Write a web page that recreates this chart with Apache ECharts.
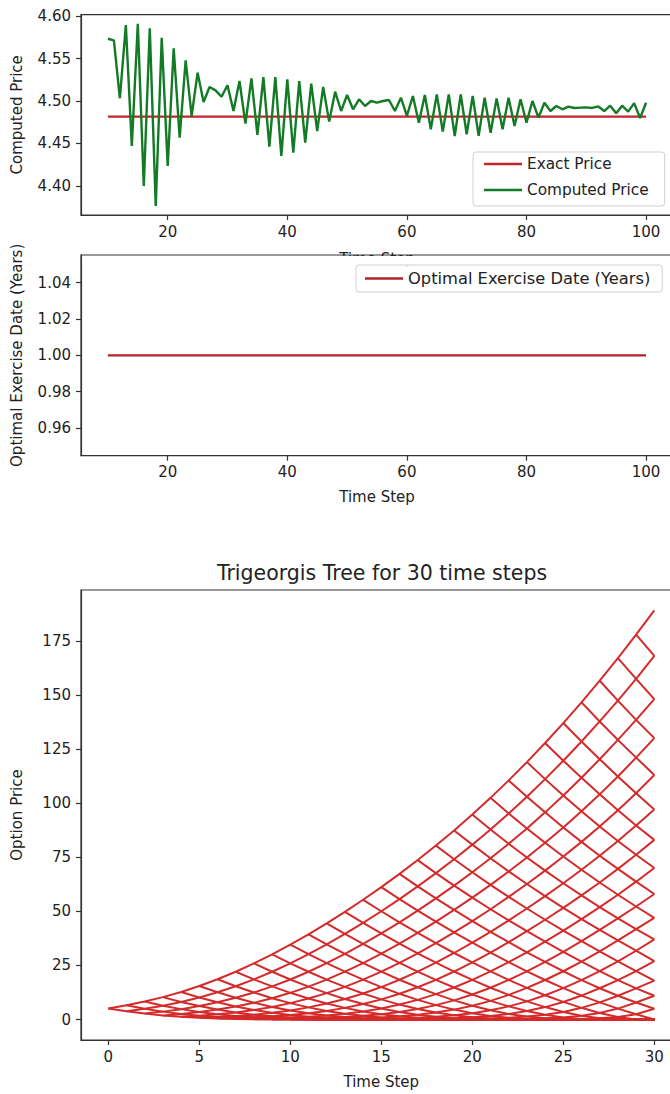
<!DOCTYPE html>
<html><head><meta charset="utf-8">
<script src="https://cdn.jsdelivr.net/npm/echarts@6/dist/echarts.min.js"></script>
<style>html,body{margin:0;padding:0;background:#fff;overflow:hidden;width:670px;height:1094px;}#c{width:700px;height:1094px;}</style>
</head><body><div id="c"></div>
<script>
// ---------- Data ----------
const firstStep = 10;
const computedPrice = [
  4.5733, 4.5714, 4.5032, 4.5894, 4.4471, 4.5910, 4.4000, 4.5855, 4.3765, 4.5745,
  4.4235, 4.5620, 4.4569, 4.5478, 4.4824, 4.5333, 4.4988, 4.5165, 4.5125, 4.5050,
  4.5185, 4.4882, 4.5235, 4.4733, 4.5265, 4.4600, 4.5280, 4.4463, 4.5280, 4.4353,
  4.5255, 4.4392, 4.5235, 4.4510, 4.5204, 4.4647, 4.5165, 4.4757, 4.5110, 4.4882,
  4.5071, 4.4902, 4.5020, 4.4941, 4.5000, 4.4980, 4.5000, 4.5012, 4.4882, 4.5039,
  4.4824, 4.5059, 4.4745, 4.5071, 4.4667, 4.5078, 4.4639, 4.5078, 4.4588, 4.5078,
  4.4608, 4.5059, 4.4590, 4.5039, 4.4627, 4.5031, 4.4667, 4.5039, 4.4706, 4.5020,
  4.4745, 4.5000, 4.4804, 4.4980, 4.4882, 4.4941, 4.4902, 4.4933, 4.4918, 4.4922,
  4.4925, 4.4918, 4.4937, 4.4882, 4.4945, 4.4855, 4.4945, 4.4875, 4.4975, 4.4800,
  4.4980
];
const exactPrice = 4.4816;
const optimalExerciseDate = [
  1,1,1,1,1,1,1,1,1,1, 1,1,1,1,1,1,1,1,1,1, 1,1,1,1,1,1,1,1,1,1,
  1,1,1,1,1,1,1,1,1,1, 1,1,1,1,1,1,1,1,1,1, 1,1,1,1,1,1,1,1,1,1,
  1,1,1,1,1,1,1,1,1,1, 1,1,1,1,1,1,1,1,1,1, 1,1,1,1,1,1,1,1,1,1, 1
];
const stepTicks = [20, 40, 60, 80, 100];
const priceTicks = [4.40, 4.45, 4.50, 4.55, 4.60];
const exerciseTicks = [0.96, 0.98, 1.00, 1.02, 1.04];

// Trigeorgis tree (30 steps): option values at the last step, top node first
const treeSteps = 30;
const terminalOptionValues = [189, 168, 148, 130, 113, 97, 83, 70, 58, 47, 37, 27, 18, 11, 5,
  0, 0, 0, 0, 0, 0, 0, 0, 0, 0, 0, 0, 0, 0, 0, 0];
const upProbability = 0.485;
const stepDiscount = 0.998;
const treeXTicks = [0, 5, 10, 15, 20, 25, 30];
const treeYTicks = [0, 25, 50, 75, 100, 125, 150, 175];

// ---------- Build ----------
const FONT = 'DejaVu Sans';
const TXT = '#222';
const steps = computedPrice.map((_, i) => firstStep + i);

// roll back the lattice
const V = [];
V[treeSteps] = [];
for (let j = 0; j <= treeSteps; j++) V[treeSteps][j] = terminalOptionValues[treeSteps - j];
for (let i = treeSteps - 1; i >= 0; i--) {
  V[i] = [];
  for (let j = 0; j <= i; j++) {
    V[i][j] = stepDiscount * (upProbability * V[i + 1][j + 1] + (1 - upProbability) * V[i + 1][j]);
  }
}
const rays = [];
for (let k = 0; k < treeSteps; k++) {
  const up = [], down = [];
  for (let m = 0; k + m <= treeSteps; m++) {
    up.push([k + m, V[k + m][m]]);
    down.push([k + m, V[k + m][k]]);
  }
  rays.push({ coords: up });
  rays.push({ coords: down });
}

const axisLineStyle = { show: true, onZero: false, lineStyle: { color: '#333', width: 1.2 } };
function xAx(grid, min, max, ticks, name, gap) {
  return {
    type: 'value', gridIndex: grid, min: min, max: max,
    axisLine: axisLineStyle,
    splitLine: { show: false },
    axisTick: { show: true, inside: false, length: 5, customValues: ticks, lineStyle: { color: '#333', width: 1.2 } },
    axisLabel: { customValues: ticks, margin: 9, fontSize: 15, color: TXT, fontFamily: FONT },
    name: name, nameLocation: 'middle', nameGap: gap,
    nameTextStyle: { fontSize: 15, color: TXT, fontFamily: FONT }
  };
}
function yAx(grid, min, max, ticks, name, fmt) {
  return {
    type: 'value', gridIndex: grid, min: min, max: max,
    axisLine: axisLineStyle,
    splitLine: { show: false },
    axisTick: { show: true, inside: false, length: 5, customValues: ticks, lineStyle: { color: '#333', width: 1.2 } },
    axisLabel: { customValues: ticks, margin: 10, fontSize: 15, color: TXT, fontFamily: FONT, formatter: fmt },
    name: name, nameLocation: 'middle', nameGap: 57,
    nameTextStyle: { fontSize: 15, color: TXT, fontFamily: FONT }
  };
}
const gridBase = { show: true, borderColor: '#333', borderWidth: 1.2, backgroundColor: 'transparent', outerBoundsMode: 'none', containLabel: false };

const chart = echarts.init(document.getElementById('c'), null, { renderer: 'svg', width: 700, height: 1094 });
chart.setOption({
  animation: false,
  backgroundColor: '#fff',
  textStyle: { fontFamily: FONT },
  title: {
    text: 'Trigeorgis Tree for 30 time steps',
    left: 377, top: 557, textAlign: 'center',
    textStyle: { fontSize: 20.5, fontWeight: 'normal', color: TXT, fontFamily: FONT }
  },
  grid: [
    Object.assign({ left: 81, top: 14.6, width: 592, height: 200.4 }, gridBase),
    Object.assign({ left: 81, top: 255, width: 592, height: 200.7 }, gridBase),
    Object.assign({ left: 81, top: 590, width: 600.6, height: 450 }, gridBase)
  ],
  xAxis: [
    xAx(0, 5.5, 104.5, stepTicks, 'Time Step', 36),
    xAx(1, 5.5, 104.5, stepTicks, 'Time Step', 34),
    xAx(2, -1.5, 31.5, treeXTicks, 'Time Step', 34)
  ],
  yAxis: [
    yAx(0, 4.3658, 4.6017, priceTicks, 'Computed Price', v => v.toFixed(2)),
    yAx(1, 0.9448, 1.0552, exerciseTicks, 'Optimal Exercise Date (Years)', v => v.toFixed(2)),
    yAx(2, -9.45, 198.45, treeYTicks, 'Option Price', v => String(v))
  ],
  legend: [
    {
      data: ['Exact Price', 'Computed Price'], orient: 'vertical',
      left: 473, top: 152, padding: [3, 16, 7, 11], itemGap: 8,
      icon: 'rect', itemWidth: 38, itemHeight: 2.5,
      backgroundColor: 'rgba(255,255,255,0.85)', borderColor: '#d0d0d0', borderWidth: 1, borderRadius: 3,
      textStyle: { fontSize: 15.3, color: TXT, fontFamily: FONT, lineHeight: 18 }, selectedMode: false
    },
    {
      data: ['Optimal Exercise Date (Years)'], orient: 'vertical',
      left: 356, top: 265, padding: [4, 12, 4, 9], itemGap: 8,
      icon: 'rect', itemWidth: 38, itemHeight: 2.5,
      backgroundColor: 'rgba(255,255,255,0.85)', borderColor: '#d0d0d0', borderWidth: 1, borderRadius: 3,
      textStyle: { fontSize: 16.3, color: TXT, fontFamily: FONT, lineHeight: 19 }, selectedMode: false
    }
  ],
  graphic: [
    { type: 'rect', z: 3, silent: true, shape: { x: 82.5, y: 256, width: 600, height: 9 }, style: { fill: '#fff' } }
  ],
  series: [
    {
      name: 'Exact Price', type: 'line', xAxisIndex: 0, yAxisIndex: 0, color: '#c0262c',
      showSymbol: false, lineStyle: { width: 2.3, color: '#c0262c' },
      data: steps.map(s => [s, exactPrice])
    },
    {
      name: 'Computed Price', type: 'line', xAxisIndex: 0, yAxisIndex: 0, color: '#137a26',
      showSymbol: false, lineStyle: { width: 2.4, color: '#137a26' },
      data: steps.map((s, i) => [s, computedPrice[i]])
    },
    {
      name: 'Optimal Exercise Date (Years)', type: 'line', xAxisIndex: 1, yAxisIndex: 1, color: '#b0242a',
      showSymbol: false, lineStyle: { width: 2.3, color: '#b0242a' },
      data: steps.map((s, i) => [s, optimalExerciseDate[i]])
    },
    {
      name: 'Tree', type: 'lines', coordinateSystem: 'cartesian2d', xAxisIndex: 2, yAxisIndex: 2,
      polyline: true, silent: true,
      lineStyle: { color: '#d42a2a', width: 2, opacity: 1 },
      data: rays
    }
  ]
});
</script>
</body></html>
